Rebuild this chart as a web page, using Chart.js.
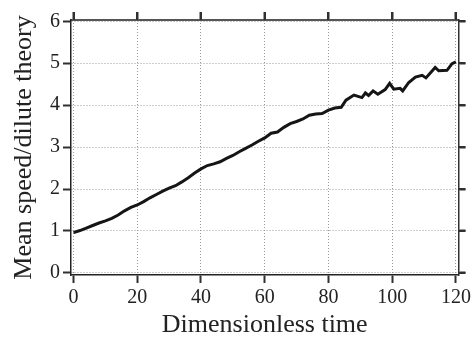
<!DOCTYPE html>
<html>
<head>
<meta charset="utf-8">
<script src="https://cdn.jsdelivr.net/npm/chart.js@4/dist/chart.umd.min.js"></script>
<style>
html,body{margin:0;padding:0;background:#fff;}
#wrap{width:474px;height:342px;position:relative;}
</style>
</head>
<body>
<div id="wrap"><canvas id="c"></canvas></div>
<script>
// Data
const timeValues = [0,2,4,6,8,10,12,14,16,18,20,22,24,26,28,30,32,34,36,38,40,42,44,46,48,50,52,54,56,58,60,62,64,66,68,70,72,74,76,78,80,82,84,85.5,88,90.5,91.6,92.6,94,95.5,97.8,99.2,100.5,102.5,103.3,105.2,107.3,109.4,110.6,113.5,114.6,117.2,118.8,120];
const speedValues = [0.96,1.01,1.07,1.13,1.19,1.24,1.30,1.38,1.48,1.56,1.62,1.70,1.79,1.87,1.95,2.02,2.08,2.17,2.27,2.38,2.48,2.56,2.60,2.65,2.73,2.80,2.89,2.97,3.05,3.14,3.22,3.33,3.36,3.47,3.56,3.61,3.67,3.76,3.79,3.80,3.88,3.93,3.95,4.12,4.24,4.18,4.29,4.23,4.34,4.26,4.37,4.52,4.38,4.40,4.34,4.54,4.67,4.71,4.65,4.90,4.82,4.83,4.99,5.03];
const xTickValues = [0,20,40,60,80,100,120];
const yTickValues = [0,1,2,3,4,5,6];
const xTitle = 'Dimensionless time';
const yTitle = 'Mean speed/dilute theory';

const points = timeValues.map((t,i)=>({x:t,y:speedValues[i]}));
const FONT = "'Liberation Serif','Times New Roman',serif";
const setTicks = arr => scale => { scale.ticks = arr.map(v=>({value:v})); };
const TICK = '#303030';

// extra outward tick marks on the top and right edges, placed through the chart's scales
const mirrorTicks = {
  id: 'mirrorTicks',
  afterDraw(chart) {
    const {ctx, chartArea: a, scales} = chart;
    ctx.save();
    ctx.lineWidth = 2; ctx.strokeStyle = TICK;
    ctx.beginPath();
    xTickValues.forEach(v => {
      const px = Math.round(scales.x.getPixelForValue(v));
      ctx.moveTo(px, a.top); ctx.lineTo(px, a.top - 8);
    });
    yTickValues.forEach(v => {
      const py = Math.round(scales.y.getPixelForValue(v));
      ctx.moveTo(a.right, py); ctx.lineTo(a.right + 7, py);
    });
    ctx.stroke();
    ctx.restore();
  }
};

new Chart(document.getElementById('c'), {
  type: 'line',
  data: { datasets: [{
    data: points,
    xAxisID: 'x',
    yAxisID: 'y',
    borderColor: '#151515',
    borderWidth: 3,
    pointRadius: 0,
    tension: 0,
    fill: false
  }]},
  options: {
    responsive: true,
    maintainAspectRatio: false,
    animation: false,
    layout: { padding: 0 },
    plugins: { legend: {display:false}, tooltip: {enabled:false} },
    scales: {
      x: {
        type: 'linear', position: 'bottom', min: -0.8, max: 120.8,
        afterBuildTicks: setTicks(xTickValues),
        afterFit: s => { s.height = 67; },
        grid: { color: '#9a9a9a', lineWidth: 1, tickColor: TICK, tickLength: 8, tickWidth: 2 },
        border: { display: true, color: '#222', width: 1.5, dash: [1,2] },
        ticks: { color: '#222', padding: 3, maxRotation: 0, font: { family: FONT, size: 20 } },
        title: { display: true, text: xTitle, color: '#222', font: { family: FONT, size: 26, lineHeight: 1 }, padding: { top: 0, bottom: 4 } }
      },
      xTop: {
        type: 'linear', axis: 'x', position: 'top', display: true, min: -0.8, max: 120.8,
        afterBuildTicks: setTicks(xTickValues),
        afterFit: s => { s.height = 20; },
        grid: { display: true, drawOnChartArea: false, drawTicks: true, color: TICK, tickColor: TICK, tickLength: 8, tickWidth: 2 },
        border: { display: true, color: '#555', width: 2 },
        ticks: { display: true, color: 'rgba(0,0,0,0)', padding: 0, maxRotation: 0, font: { family: FONT, size: 1 } }
      },
      y: {
        type: 'linear', position: 'left', min: -0.05, max: 6.03,
        afterBuildTicks: setTicks(yTickValues),
        afterFit: s => { s.width = 71; },
        grid: { color: '#9a9a9a', lineWidth: 1, tickColor: TICK, tickLength: 8, tickWidth: 2 },
        border: { display: true, color: '#222', width: 1.5, dash: [1,2] },
        ticks: { color: '#222', padding: 3, font: { family: FONT, size: 20 } },
        title: { display: true, text: yTitle, color: '#222', font: { family: FONT, size: 26, lineHeight: 1 }, padding: { top: 11, bottom: 0 } }
      },
      yRight: {
        type: 'linear', axis: 'y', position: 'right', display: true, min: -0.05, max: 6.03,
        afterBuildTicks: setTicks(yTickValues),
        afterFit: s => { s.width = 13; },
        grid: { display: true, drawOnChartArea: false, drawTicks: true, color: TICK, tickColor: TICK, tickLength: 7, tickWidth: 2 },
        border: { display: true, color: '#333', width: 1.5 },
        ticks: { display: true, color: 'rgba(0,0,0,0)', padding: 0, font: { family: FONT, size: 1 } }
      }
    }
  },
  plugins: [mirrorTicks]
});
</script>
</body>
</html>
